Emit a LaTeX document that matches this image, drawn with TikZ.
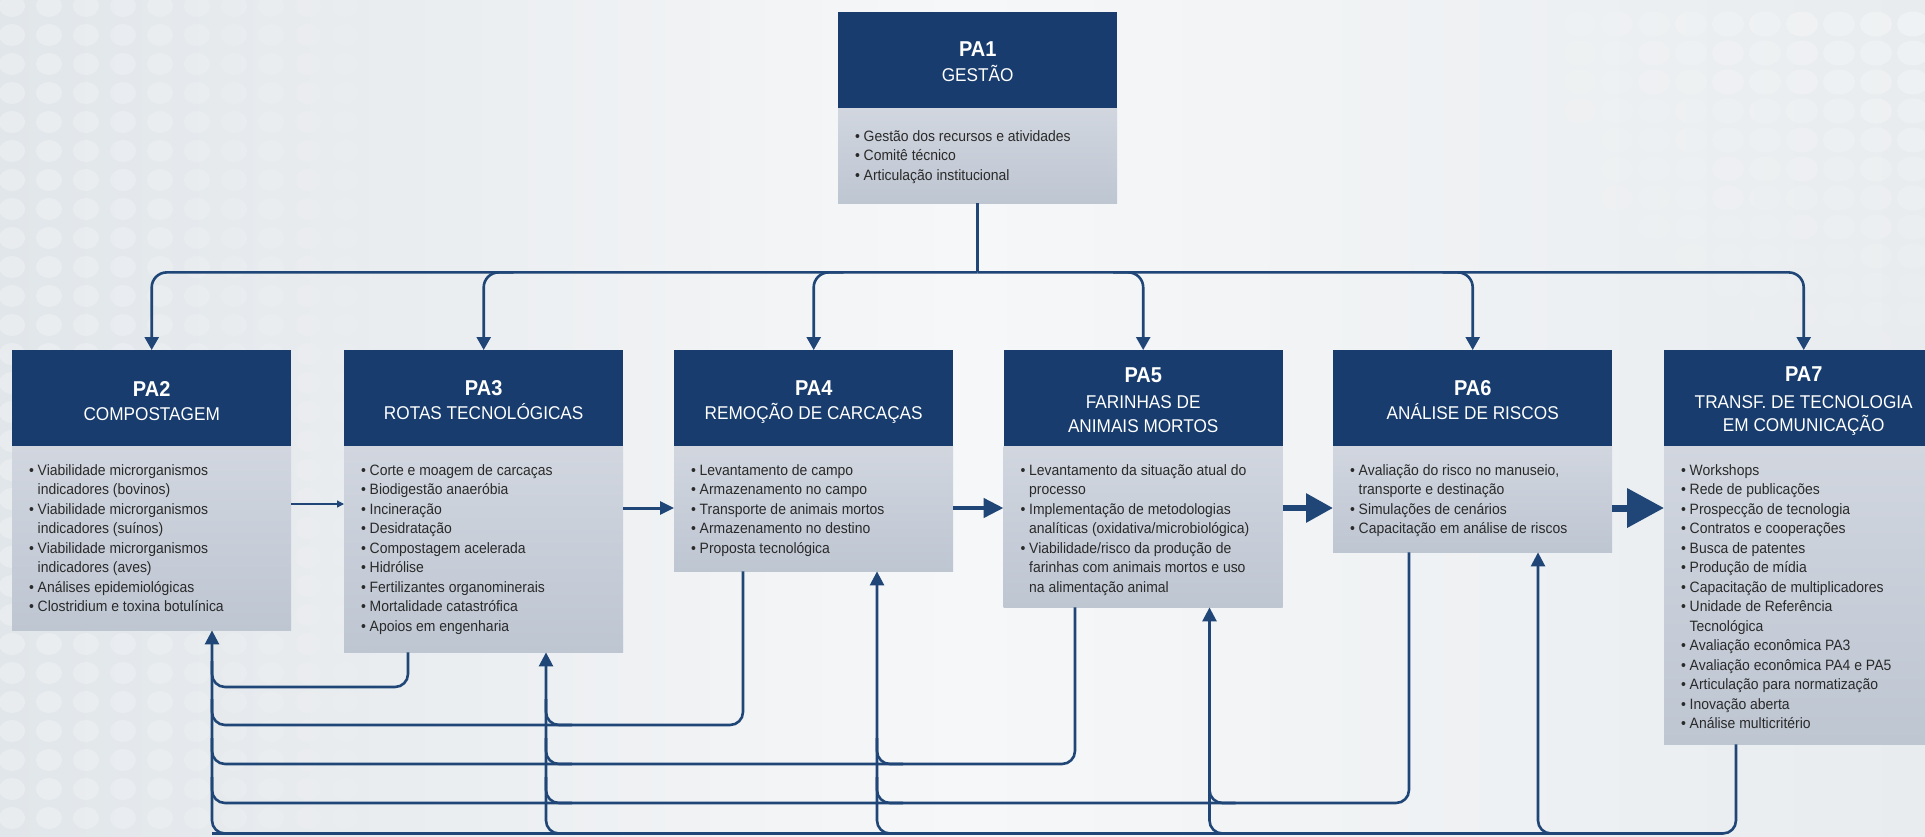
\documentclass[tikz,border=0pt]{standalone}
\usepackage{fontspec}
\setmainfont{Liberation Sans}[FakeStretch=0.93]
\usetikzlibrary{arrows.meta,calc}
\definecolor{navy}{HTML}{173C6D}
\definecolor{lineblue}{HTML}{1F4677}
\definecolor{bodyTop}{HTML}{D1D6DF}
\definecolor{bodyBot}{HTML}{BEC6D2}
\definecolor{txt}{HTML}{2A2A2A}
\definecolor{bgleft}{HTML}{E1E6EA}
\definecolor{bgright}{HTML}{E8ECEF}
\definecolor{bgmid}{HTML}{F6F7F8}
\newcommand\myb{\makebox[8.5pt][l]{\textbullet}}
\newcommand\myc{\hspace*{8.5pt}}
\tikzset{
  headbox/.style={rectangle, fill=navy, minimum width=279pt, minimum height=96pt, inner sep=0pt, anchor=north west},
  bodybox/.style={rectangle, top color=bodyTop, bottom color=bodyBot, minimum width=279pt, inner sep=0pt, anchor=north west},
  ttl/.style={text=white, font=\fontsize{21.5}{24}\selectfont\bfseries, inner sep=0pt, anchor=base},
  subt/.style={text=white, font=\fontsize{18.5}{24}\selectfont, inner sep=0pt, anchor=base},
  btxt/.style={text=txt, font=\fontsize{15}{19.5}\selectfont, inner sep=0pt, anchor=base west},
  link/.style={draw=lineblue, line width=2.6pt},
  tipd/.style={-{Triangle[width=14pt,length=13pt]}},
  tipu/.style={-{Triangle[width=14pt,length=14pt]}},
}
\begin{document}
\begin{tikzpicture}[x=1pt,y=-1pt]
\useasboundingbox (0,0) rectangle (1925,836);
\clip (0,0) rectangle (1925,836);
% background
\shade[left color=bgleft, right color=bgright, middle color=bgmid] (0,0) rectangle (1925,836);
\foreach \c in {0,...,11} {
  \pgfmathsetmacro\op{0.28*(1-\c/12)}
  \foreach \r in {0,...,28} {
    \fill[white, opacity=\op] (12+37*\c, 6+29*\r) ellipse [x radius=13, y radius=11];
  }
}
\foreach \c in {0,...,11} {
  \foreach \r in {0,...,11} {
    \pgfmathsetmacro\op{0.32*(1-\c/12)*(1-\r/13)}
    \fill[white, opacity=\op] (1913-37*\c, 24+29*\r) ellipse [x radius=16, y radius=12.5];
  }
}

% ---------- boxes ----------
\node[headbox] (PA1h) at (838,12) {};
\node[bodybox, minimum height=95pt] (PA1b) at (838,108) {};
\node[headbox] (PA2h) at (12,350) {};
\node[bodybox, minimum height=184pt] (PA2b) at (12,446) {};
\node[headbox] (PA3h) at (344,350) {};
\node[bodybox, minimum height=206pt] (PA3b) at (344,446) {};
\node[headbox] (PA4h) at (674,350) {};
\node[bodybox, minimum height=125pt] (PA4b) at (674,446) {};
\node[headbox] (PA5h) at (1003.5,350) {};
\node[bodybox, minimum height=161pt] (PA5b) at (1003.5,446) {};
\node[headbox] (PA6h) at (1333,350) {};
\node[bodybox, minimum height=106pt] (PA6b) at (1333,446) {};
\node[headbox] (PA7h) at (1664,350) {};
\node[bodybox, minimum height=298pt] (PA7b) at (1664,446) {};

% ---------- header texts ----------
\node[ttl] (PA1t) at ($(PA1h.north)+(0,44)$) {PA1};
\node[subt] (PA1s) at ($(PA1h.north)+(0,69)$) {GESTÃO};
\node[ttl] (PA2t) at ($(PA2h.north)+(0,46)$) {PA2};
\node[subt] (PA2s) at ($(PA2h.north)+(0,70)$) {COMPOSTAGEM};
\node[ttl] (PA3t) at ($(PA3h.north)+(0,45)$) {PA3};
\node[subt] (PA3s) at ($(PA3h.north)+(0,69)$) {ROTAS TECNOLÓGICAS};
\node[ttl] (PA4t) at ($(PA4h.north)+(0,45)$) {PA4};
\node[subt] (PA4s) at ($(PA4h.north)+(0,69)$) {REMOÇÃO DE CARCAÇAS};
\node[ttl] (PA5t) at ($(PA5h.north)+(0,32)$) {PA5};
\node[subt] (PA5s) at ($(PA5h.north)+(0,58.5)$) {FARINHAS DE};
\node[subt] (PA5u) at ($(PA5h.north)+(0,82)$) {ANIMAIS MORTOS};
\node[ttl] (PA6t) at ($(PA6h.north)+(0,45)$) {PA6};
\node[subt] (PA6s) at ($(PA6h.north)+(0,69)$) {ANÁLISE DE RISCOS};
\node[ttl] (PA7t) at ($(PA7h.north)+(0,31)$) {PA7};
\node[subt] (PA7s) at ($(PA7h.north)+(0,58.5)$) {TRANSF. DE TECNOLOGIA};
\node[subt] (PA7u) at ($(PA7h.north)+(0,81)$) {EM COMUNICAÇÃO};

% ---------- body texts ----------
\node[btxt] (PA1x) at ($(PA1b.north west)+(17,33)$) {\begin{tabular}[t]{@{}l@{}}
\myb Gestão dos recursos e atividades\\
\myb Comitê técnico\\
\myb Articulação institucional
\end{tabular}};
\node[btxt] (PA2x) at ($(PA2b.north west)+(17,29)$) {\begin{tabular}[t]{@{}l@{}}
\myb Viabilidade microrganismos\\
\myc indicadores (bovinos)\\
\myb Viabilidade microrganismos\\
\myc indicadores (suínos)\\
\myb Viabilidade microrganismos\\
\myc indicadores (aves)\\
\myb Análises epidemiológicas\\
\myb Clostridium e toxina botulínica
\end{tabular}};
\node[btxt] (PA3x) at ($(PA3b.north west)+(17,29)$) {\begin{tabular}[t]{@{}l@{}}
\myb Corte e moagem de carcaças\\
\myb Biodigestão anaeróbia\\
\myb Incineração\\
\myb Desidratação\\
\myb Compostagem acelerada\\
\myb Hidrólise\\
\myb Fertilizantes organominerais\\
\myb Mortalidade catastrófica\\
\myb Apoios em engenharia
\end{tabular}};
\node[btxt] (PA4x) at ($(PA4b.north west)+(17,29)$) {\begin{tabular}[t]{@{}l@{}}
\myb Levantamento de campo\\
\myb Armazenamento no campo\\
\myb Transporte de animais mortos\\
\myb Armazenamento no destino\\
\myb Proposta tecnológica
\end{tabular}};
\node[btxt] (PA5x) at ($(PA5b.north west)+(17,29)$) {\begin{tabular}[t]{@{}l@{}}
\myb Levantamento da situação atual do\\
\myc processo\\
\myb Implementação de metodologias\\
\myc analíticas (oxidativa/microbiológica)\\
\myb Viabilidade/risco da produção de\\
\myc farinhas com animais mortos e uso\\
\myc na alimentação animal
\end{tabular}};
\node[btxt] (PA6x) at ($(PA6b.north west)+(17,29)$) {\begin{tabular}[t]{@{}l@{}}
\myb Avaliação do risco no manuseio,\\
\myc transporte e destinação\\
\myb Simulações de cenários\\
\myb Capacitação em análise de riscos
\end{tabular}};
\node[btxt] (PA7x) at ($(PA7b.north west)+(17,29)$) {\begin{tabular}[t]{@{}l@{}}
\myb Workshops\\
\myb Rede de publicações\\
\myb Prospecção de tecnologia\\
\myb Contratos e cooperações\\
\myb Busca de patentes\\
\myb Produção de mídia\\
\myb Capacitação de multiplicadores\\
\myb Unidade de Referência\\
\myc Tecnológica\\
\myb Avaliação econômica PA3\\
\myb Avaliação econômica PA4 e PA5\\
\myb Articulação para normatização\\
\myb Inovação aberta\\
\myb Análise multicritério
\end{tabular}};

% ---------- top distribution ----------
\coordinate (hub) at ($(PA1b.south)+(0,69)$);
\draw[link] (PA1b.south) -- (hub);
\draw[link, rounded corners=15pt, tipd] (hub) -| (PA2h.north);
\draw[link, rounded corners=15pt, tipd] (hub) -| (PA7h.north);
\draw[link, rounded corners=15pt, tipd] ($(PA3h.north |- hub)+(30,0)$) -- (PA3h.north |- hub) -- (PA3h.north);
\draw[link, rounded corners=15pt, tipd] ($(PA4h.north |- hub)+(30,0)$) -- (PA4h.north |- hub) -- (PA4h.north);
\draw[link, rounded corners=15pt, tipd] ($(PA5h.north |- hub)+(-30,0)$) -- (PA5h.north |- hub) -- (PA5h.north);
\draw[link, rounded corners=15pt, tipd] ($(PA6h.north |- hub)+(-30,0)$) -- (PA6h.north |- hub) -- (PA6h.north);

% ---------- arrows between boxes ----------
\draw[draw=lineblue, line width=1.3pt, -{Triangle[width=7pt,length=7pt]}] ($(PA2b.north east)+(0,58)$) -- ($(PA3b.north west)+(0,58)$);
\draw[draw=lineblue, line width=3pt, -{Triangle[width=13pt,length=14pt]}] ($(PA3b.north east)+(0,62)$) -- ($(PA4b.north west)+(0,62)$);
\draw[draw=lineblue, line width=4.5pt, -{Triangle[width=19pt,length=20pt]}] ($(PA4b.north east)+(0,62)$) -- ($(PA5b.north west)+(0,62)$);
\draw[draw=lineblue, line width=6pt, -{Triangle[width=28pt,length=27pt]}] ($(PA5b.north east)+(0,62)$) -- ($(PA6b.north west)+(0,62)$);
\draw[draw=lineblue, line width=7pt, -{Triangle[width=38pt,length=37pt]}] ($(PA6b.north east)+(0,62)$) -- ($(PA7b.north west)+(0,62)$);

% ---------- feedback bus ----------
\coordinate (up2) at ($(PA2b.south west)+(200,0)$);
\coordinate (up3) at ($(PA3b.south west)+(202,0)$);
\coordinate (up4) at ($(PA4b.south west)+(203,0)$);
\coordinate (up5) at ($(PA5b.south west)+(206,0)$);
\coordinate (up6) at ($(PA6b.south west)+(205,0)$);
\coordinate (dn3) at ($(PA3b.south west)+(64,0)$);
\coordinate (dn4) at ($(PA4b.south west)+(69,0)$);
\coordinate (dn5) at ($(PA5b.south west)+(71.5,0)$);
\coordinate (dn6) at ($(PA6b.south west)+(76,0)$);
\coordinate (dn7) at ($(PA7b.south west)+(72,0)$);
\coordinate (lv3) at (0,687);
\coordinate (lv4) at (0,725);
\coordinate (lv5) at (0,764);
\coordinate (lv6) at (0,803);
\coordinate (lv7) at (0,833.5);

\foreach \u in {up2,up3,up4,up5,up6} {
  \draw[link, rounded corners=13pt, tipu] ($(\u |- lv7)+(26,0)$) -- (\u |- lv7) -- (\u);
}
\draw[link, rounded corners=13pt] (dn3) -- (dn3 |- lv3) -- (up2 |- lv3) -- ($(up2 |- lv3)+(0,-26)$);
\draw[link, rounded corners=13pt] (dn4) -- (dn4 |- lv4) -- (up2 |- lv4) -- ($(up2 |- lv4)+(0,-26)$);
\draw[link, rounded corners=13pt] (dn5) -- (dn5 |- lv5) -- (up2 |- lv5) -- ($(up2 |- lv5)+(0,-26)$);
\draw[link, rounded corners=13pt] (dn6) -- (dn6 |- lv6) -- (up2 |- lv6) -- ($(up2 |- lv6)+(0,-26)$);
\draw[link, rounded corners=13pt] (dn7) -- (dn7 |- lv7) -- (up2 |- lv7);
% branches into intermediate up-lines
\draw[link, rounded corners=13pt] ($(up3 |- lv4)+(26,0)$) -- (up3 |- lv4) -- ($(up3 |- lv4)+(0,-26)$);
\draw[link, rounded corners=13pt] ($(up3 |- lv5)+(26,0)$) -- (up3 |- lv5) -- ($(up3 |- lv5)+(0,-26)$);
\draw[link, rounded corners=13pt] ($(up4 |- lv5)+(26,0)$) -- (up4 |- lv5) -- ($(up4 |- lv5)+(0,-26)$);
\draw[link, rounded corners=13pt] ($(up3 |- lv6)+(26,0)$) -- (up3 |- lv6) -- ($(up3 |- lv6)+(0,-26)$);
\draw[link, rounded corners=13pt] ($(up4 |- lv6)+(26,0)$) -- (up4 |- lv6) -- ($(up4 |- lv6)+(0,-26)$);
\draw[link, rounded corners=13pt] ($(up5 |- lv6)+(26,0)$) -- (up5 |- lv6) -- ($(up5 |- lv6)+(0,-26)$);
\end{tikzpicture}
\end{document}
